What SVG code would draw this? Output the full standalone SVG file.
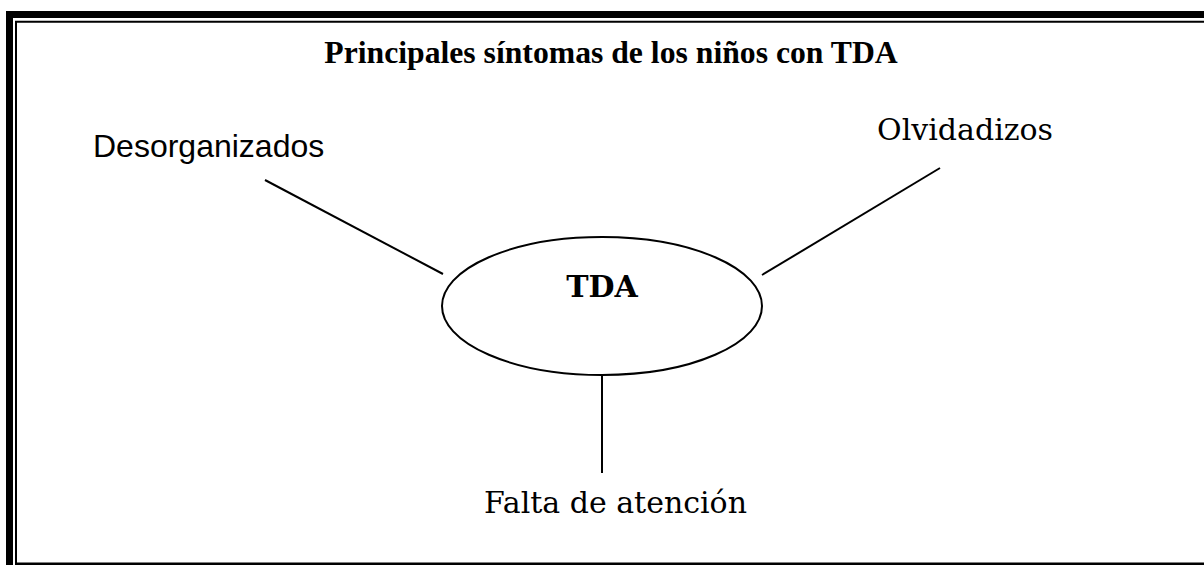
<svg xmlns="http://www.w3.org/2000/svg" width="1204" height="565" viewBox="0 0 1204 565">
<style>
.frame{fill:none;stroke:#000}
.conn{stroke:#000;stroke-width:2;fill:none}
.title{font-family:"Liberation Serif","Times New Roman",serif;font-weight:bold;font-size:31.7px;fill:#000}
.sans{font-family:"Liberation Sans",Arial,sans-serif;font-size:32px;fill:#000}
.book{font-family:"DejaVu Serif","Liberation Serif",serif;font-size:30px;fill:#000}
.bookb{font-family:"DejaVu Serif","Liberation Serif",serif;font-size:30px;font-weight:bold;fill:#000}
</style>
<rect width="1204" height="565" fill="#fff"/>
<g id="frame">
<path class="frame" stroke-width="7" d="M9.5 565 V14.5 H1210"/>
<path class="frame" stroke-width="2" d="M16 565 V21.8 H1210"/>
<path class="frame" stroke-width="2.5" d="M16 563.8 H1210"/>
</g>
<text id="title" class="title" x="611" y="63" text-anchor="middle">Principales síntomas de los niños con TDA</text>
<g id="connectors">
<line class="conn" x1="265" y1="180" x2="443" y2="274"/>
<line class="conn" x1="940" y1="168" x2="762" y2="275"/>
<line class="conn" x1="602" y1="375" x2="602" y2="473"/>
</g>
<g id="node-tda">
<ellipse cx="602" cy="306" rx="160" ry="69" fill="#fff" stroke="#000" stroke-width="2"/>
<text class="bookb" x="602" y="297" text-anchor="middle">TDA</text>
</g>
<g id="node-desorganizados">
<text class="sans" x="93" y="157">Desorganizados</text>
</g>
<g id="node-olvidadizos">
<text class="book" x="1053" y="140" text-anchor="end">Olvidadizos</text>
</g>
<g id="node-falta">
<text class="book" x="747" y="513" text-anchor="end">Falta de atención</text>
</g>
</svg>
